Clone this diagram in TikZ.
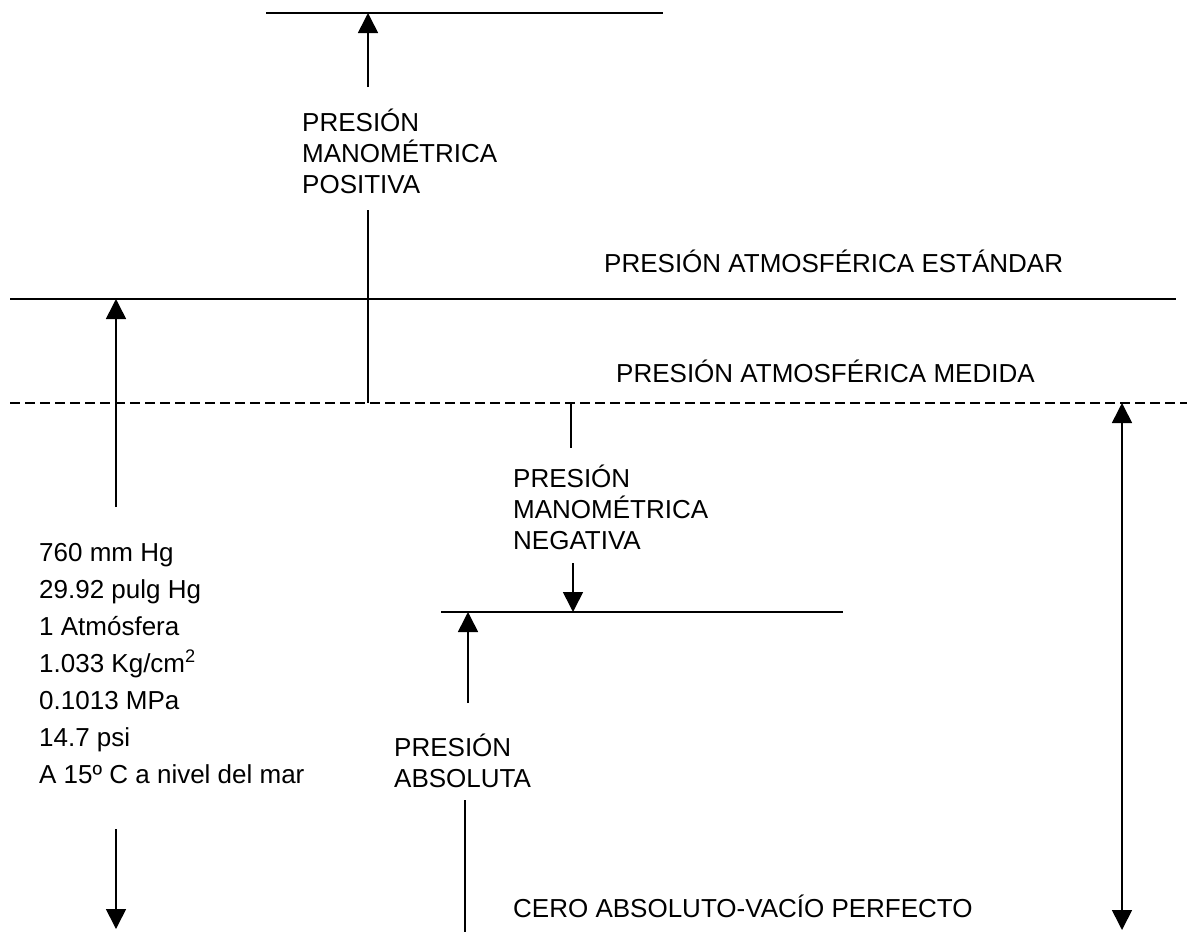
\documentclass[tikz,border=0pt]{standalone}
\usepackage{fontspec}
\setmainfont{Liberation Sans}
\usetikzlibrary{arrows.meta}
\tikzset{
  lbl/.style={anchor=base west, inner sep=0pt, font=\fontsize{26}{31}\selectfont},
  ln/.style={line width=1.6pt},
  dashln/.style={line width=1.6pt, dash pattern=on 10pt off 5pt},
  arr/.style={line width=1.6pt, -{Triangle[width=20pt,length=20pt]}},
  darr/.style={line width=1.6pt, {Triangle[width=20pt,length=20pt]}-{Triangle[width=20pt,length=20pt]}},
}
\begin{document}
\begin{tikzpicture}[x=1pt,y=-1pt]
\useasboundingbox (0,0) rectangle (1197,932);
% coordinates
\coordinate (tl) at (266,13);  \coordinate (tr) at (663,13);
\coordinate (pa) at (368,87);  \coordinate (ptip) at (368,13);
\coordinate (pv1) at (368,210); \coordinate (pv2) at (368,403);
\coordinate (sl) at (10,299);  \coordinate (sr) at (1176,299);
\coordinate (dl) at (10,403);  \coordinate (dr) at (1187,403);
\coordinate (la1) at (116,507); \coordinate (la2) at (116,299);
\coordinate (lb1) at (116,829); \coordinate (lb2) at (116,929);
\coordinate (nv1) at (571,403); \coordinate (nv2) at (571,448);
\coordinate (na1) at (573,563); \coordinate (na2) at (573,612);
\coordinate (nl) at (441,612);  \coordinate (nr) at (843,612);
\coordinate (aa1) at (468,703); \coordinate (aa2) at (468,612);
\coordinate (av1) at (465,800); \coordinate (av2) at (465,932);
\coordinate (da1) at (1122,403); \coordinate (da2) at (1122,930);
% lines
\draw[ln] (tl) -- (tr);
\draw[ln] (sl) -- (sr);
\draw[dashln] (dl) -- (dr);
\draw[ln] (nl) -- (nr);
\draw[arr] (pa) -- (ptip);
\draw[ln] (pv1) -- (pv2);
\draw[arr] (la1) -- (la2);
\draw[arr] (lb1) -- (lb2);
\draw[ln] (nv1) -- (nv2);
\draw[arr] (na1) -- (na2);
\draw[arr] (aa1) -- (aa2);
\draw[ln] (av1) -- (av2);
\draw[darr] (da1) -- (da2);
% texts
\node[lbl] (pos1) at (302,131) {PRESIÓN};
\node[lbl] (pos2) at (302,162) {MANOMÉTRICA};
\node[lbl] (pos3) at (302,193) {POSITIVA};
\node[lbl] (std) at (604,272) {PRESIÓN ATMOSFÉRICA ESTÁNDAR};
\node[lbl] (med) at (616,382) {PRESIÓN ATMOSFÉRICA MEDIDA};
\node[lbl] (neg1) at (513,487) {PRESIÓN};
\node[lbl] (neg2) at (513,518) {MANOMÉTRICA};
\node[lbl] (neg3) at (513,549) {NEGATIVA};
\node[lbl] (v1) at (39,561) {760 mm Hg};
\node[lbl] (v2) at (39,598) {29.92 pulg Hg};
\node[lbl] (v3) at (39,635) {1 Atmósfera};
\node[lbl] (v4) at (39,672) {1.033 Kg/cm\textsuperscript{2}};
\node[lbl] (v5) at (39,709) {0.1013 MPa};
\node[lbl] (v6) at (39,746) {14.7 psi};
\node[lbl] (v7) at (39,783) {A 15º C a nivel del mar};
\node[lbl] (abs1) at (394,756) {PRESIÓN};
\node[lbl] (abs2) at (394,787) {ABSOLUTA};
\node[lbl] (cero) at (513,917) {CERO ABSOLUTO-VACÍO PERFECTO};
\end{tikzpicture}
\end{document}
